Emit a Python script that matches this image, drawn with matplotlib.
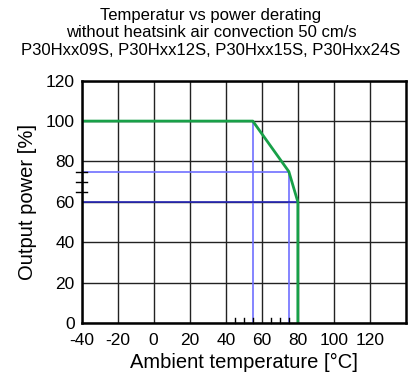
import matplotlib.pyplot as plt

plt.rcParams['font.family'] = ['Liberation Sans', 'DejaVu Sans']
plt.rcParams['axes.unicode_minus'] = False

# derating curve
temp = [-40, 55, 75, 80, 80]
power = [100, 100, 75, 60, 0]

# helper lines
lvl75_x = [-40, 75, 75]
lvl75_y = [75, 75, 0]
lvl60_x = [-40, 80]
lvl60_y = [60, 60]
lvl55_x = [55, 55]
lvl55_y = [0, 100]

xticks = [-40, -20, 0, 20, 40, 60, 80, 100, 120]
yticks = [0, 20, 40, 60, 80, 100, 120]
x_minor = [45, 50, 55, 65, 70, 75]
y_minor = [65, 70, 75]

fig = plt.figure(figsize=(4.08, 3.78), dpi=100)
ax = fig.add_axes([0.200, 0.1455, 0.795, 0.641])

ax.set_xlim(-40, 140)
ax.set_ylim(0, 120)
ax.set_xticks(xticks)
ax.set_yticks(yticks)
ax.grid(True, color='#222222', linewidth=1.0)
ax.set_axisbelow(True)

ax.plot(lvl55_x, lvl55_y, color='#7070ff', linewidth=1.2)
ax.plot(lvl75_x, lvl75_y, color='#7070ff', linewidth=1.2)
ax.plot(lvl60_x, lvl60_y, color='#2828b8', linewidth=1.2)
ax.plot(temp, power, color='#18a048', linewidth=2.0)

# small marks on the axes
for xm in x_minor:
    ax.plot([xm, xm], [0, 2.5], color='black', linewidth=1.0, clip_on=False)
for ym in y_minor:
    ax.plot([-43, -37], [ym, ym], color='black', linewidth=1.0, clip_on=False)

for s in ax.spines.values():
    s.set_linewidth(1.8)
ax.tick_params(length=0, labelsize=12.5, pad=5)
ax.tick_params(axis='x', pad=7)

ax.set_xlabel('Ambient temperature [°C]', fontsize=14.5, labelpad=4)
ax.set_ylabel('Output power [%]', fontsize=14.5, labelpad=6)
fig.text(0.517, 0.98, 'Temperatur vs power derating\nwithout heatsink air convection 50 cm/s\nP30Hxx09S, P30Hxx12S, P30Hxx15S, P30Hxx24S',
         fontsize=12, linespacing=1.22, ha='center', va='top')

fig.savefig('out.png', dpi=100)
